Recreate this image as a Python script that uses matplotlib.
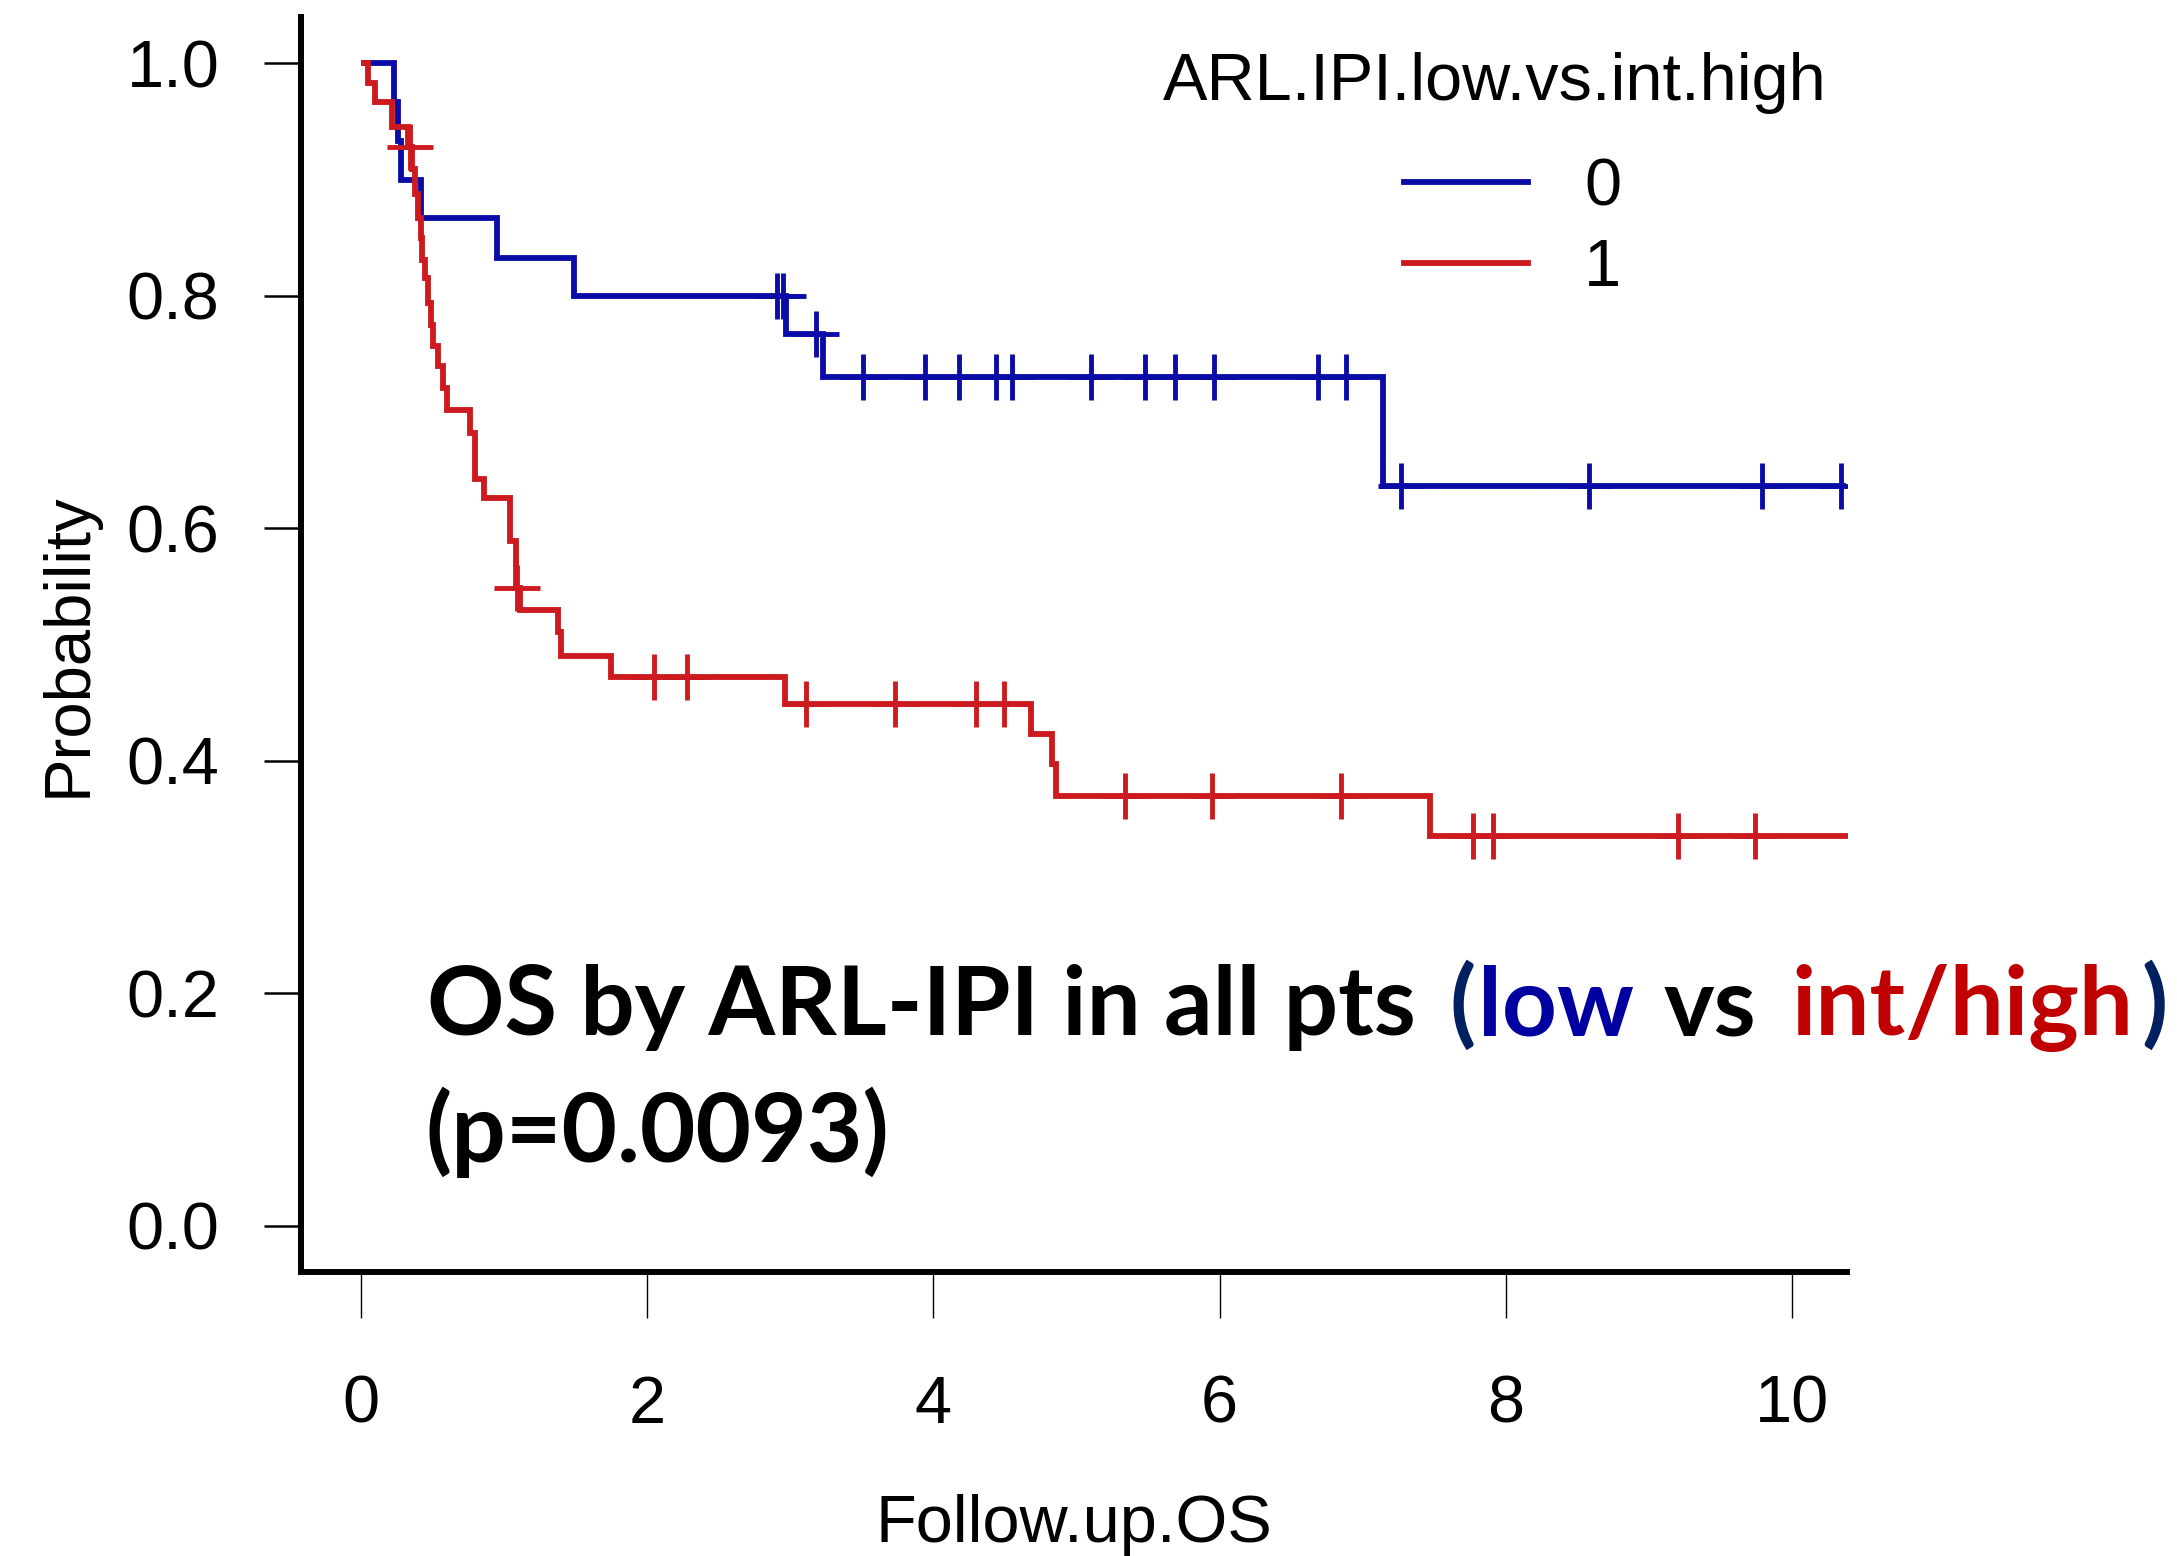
import numpy as np
import matplotlib.pyplot as plt
from matplotlib.lines import Line2D

plt.rcParams["font.family"] = ["Liberation Sans", "DejaVu Sans"]

# Kaplan-Meier steps, group 0 (ARL-IPI low)
low_time = [0.0, 0.23, 0.26, 0.28, 0.42, 0.95, 1.49, 2.97, 3.23, 7.14, 10.38]
low_surv = [1.0, 0.967, 0.933, 0.900, 0.867, 0.833, 0.800, 0.767, 0.730, 0.636, 0.636]
low_cens = [2.91, 2.95, 3.18, 3.51, 3.94, 4.18, 4.44, 4.55, 5.10, 5.48, 5.69,
            5.96, 6.69, 6.88, 7.27, 8.58, 9.79, 10.34]

# Kaplan-Meier steps, group 1 (ARL-IPI int/high)
high_time = [0.0, 0.05, 0.10, 0.22, 0.33, 0.36, 0.38, 0.40, 0.42, 0.43, 0.45,
             0.47, 0.49, 0.50, 0.54, 0.57, 0.60, 0.76, 0.80, 0.86, 1.04, 1.08,
             1.11, 1.38, 1.40, 1.75, 2.96, 4.68, 4.83, 4.86, 7.47, 10.39]
high_surv = [1.0, 0.983, 0.967, 0.945, 0.928, 0.909, 0.888, 0.867, 0.850, 0.831,
             0.815, 0.794, 0.775, 0.757, 0.740, 0.721, 0.702, 0.682, 0.642, 0.626,
             0.589, 0.549, 0.530, 0.511, 0.490, 0.472, 0.449, 0.423, 0.397, 0.370,
             0.335, 0.335]
high_cens = [0.34, 1.09, 2.05, 2.28, 3.11, 3.73, 4.30, 4.49, 5.34, 5.95, 6.85,
             7.77, 7.91, 9.20, 9.74]

group_labels = ["0", "1"]
legend_title = "ARL.IPI.low.vs.int.high"
x_ticks = [0, 2, 4, 6, 8, 10]
y_ticks = [0.0, 0.2, 0.4, 0.6, 0.8, 1.0]

BLUE = "#0B0BA8"
RED = "#CC1A1E"

W, H = 2177, 1556
fig = plt.figure(figsize=(W / 100, H / 100), dpi=100)
ax = fig.add_axes([301 / W, 1 - 1272 / H, (1847 - 301) / W, (1272 - 17) / H])


def censor_y(times, surv, cens):
    idx = np.searchsorted(times, cens, side="right") - 1
    return np.asarray(surv)[idx]


for times, surv, cens, col in [(low_time, low_surv, low_cens, BLUE),
                               (high_time, high_surv, high_cens, RED)]:
    ax.step(times, surv, where="post", color=col, lw=4.2,
            solid_joinstyle="miter", solid_capstyle="butt", clip_on=False)
    ax.plot(cens, censor_y(times, surv, cens), ls="none", marker="+",
            ms=33, mew=3.5, color=col)

ax.set_xlim(-0.419, 10.384)
ax.set_ylim(-0.04, 1.04)

# L-shaped box like base R
for side in ["top", "right"]:
    ax.spines[side].set_visible(False)
for side in ["left", "bottom"]:
    ax.spines[side].set_linewidth(4.3)

ax.set_xticks(x_ticks)
ax.set_xticklabels([str(t) for t in x_ticks])
ax.set_yticks(y_ticks)
ax.set_yticklabels([f"{t:.1f}" for t in y_ticks])
ax.tick_params(axis="x", direction="out", length=33, width=1.0, pad=41, labelsize=48)
ax.tick_params(axis="y", direction="out", length=26.6, width=1.8, pad=32, labelsize=48)

ax.set_xlabel("Follow.up.OS", fontsize=48)
ax.xaxis.set_label_coords(0.5, -0.177)
ax.set_ylabel("Probability", fontsize=47)
ax.yaxis.set_label_coords(-0.131, 0.5)

# legend: title drawn separately, entries underneath
fig.text(1495 / W, 1 - 100 / H, legend_title, fontsize=48, ha="center", va="baseline")
handles = [Line2D([], [], color=BLUE, lw=4.2), Line2D([], [], color=RED, lw=4.2)]
ax.legend(handles, group_labels, loc="upper left",
          bbox_to_anchor=(1404 / W, 1 - 157 / H), bbox_transform=fig.transFigure,
          frameon=False, fontsize=48, handlelength=1.86, handletextpad=0.84,
          labelspacing=0.29, borderpad=0, borderaxespad=0)

# two-line annotation with coloured words
font = dict(family="Lato", weight="bold", size=69)
x0 = (427 - 301) / 1546
y1 = (1272 - 1035) / 1255
y2 = (1272 - 1162) / 1255

pieces = [("OS by ARL-IPI in all pts", "black", 0),
          ("(", "#002060", 24),
          ("low", "#0000A0", 2),
          ("vs", "black", 21),
          ("int/high", "#C00000", 25),
          (")", "#002060", 6)]
prev = ax.text(x0, y1, pieces[0][0], color=pieces[0][1], transform=ax.transAxes,
               ha="left", va="baseline", **font)
for txt, col, gap in pieces[1:]:
    prev = ax.annotate(txt, xy=(1, y1), xycoords=(prev, "axes fraction"),
                       xytext=(gap, 0), textcoords="offset points",
                       ha="left", va="baseline", color=col,
                       annotation_clip=False, **font)

ax.text(x0 - 0.001, y2, "(p=0.0093)", color="black", transform=ax.transAxes,
        ha="left", va="baseline", **font)

fig.savefig("out.png", dpi=100, facecolor="white")
